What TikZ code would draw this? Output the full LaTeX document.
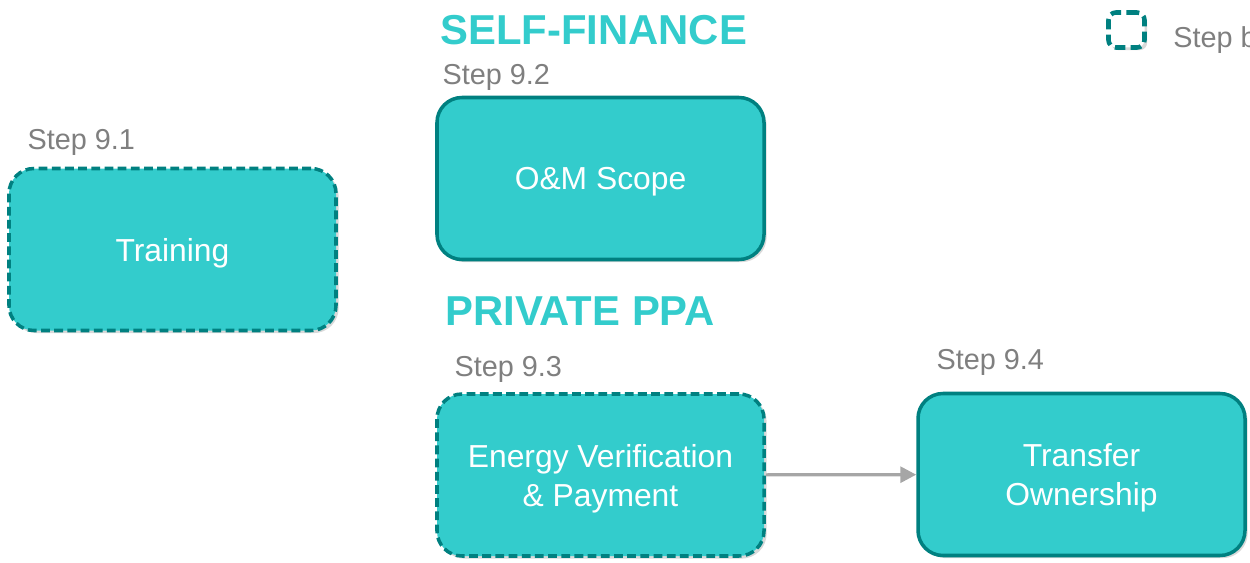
\documentclass[tikz,border=0pt]{standalone}
\usepackage{fontspec}
\setmainfont{Liberation Sans}
\usepackage{tikz}
\usetikzlibrary{shapes,arrows.meta,positioning,shadows}

\definecolor{stepfill}{RGB}{51,204,204}
\definecolor{stepline}{RGB}{0,128,128}
\definecolor{labelgray}{RGB}{127,127,127}
\definecolor{arrowgray}{RGB}{166,166,166}

\begin{document}
\begin{tikzpicture}[
    stepbox/.style={rectangle, rounded corners=0.5cm, minimum width=6.54cm, minimum height=3.24cm, align=center, text depth=0pt, draw=stepline, line width=2pt, fill=stepfill, text=white, font=\fontsize{18.1pt}{22.2pt}\selectfont, drop shadow={shadow xshift=1.5pt, shadow yshift=-1.5pt, opacity=0.3}},
    optional/.style={dash pattern=on 5pt off 2.5pt},
    steplabel/.style={inner sep=0pt, text=labelgray, font=\fontsize{16.4pt}{19pt}\selectfont},
    heading/.style={inner sep=0pt, text=stepfill, font=\bfseries\fontsize{23.8pt}{28pt}\selectfont},
    arrow/.style={line width=1.8pt, draw=arrowgray, -{Triangle[length=9pt,width=9pt]}}
]
\useasboundingbox (0,0) rectangle (25,-11.26);

% Boxes
\node (train) [stepbox, optional] at (3.45,-4.99) {Training};
\node (scope) [stepbox] at (12.01,-3.57) {O\&M Scope};
\node (verify) [stepbox, optional] at (12.01,-9.50) {Energy Verification\\ \& Payment};
\node (transfer) [stepbox] at (21.63,-9.49) {Transfer\\ Ownership};

% Step labels
\node (lbl1) [steplabel, above right=0.22cm and 0.4cm of train.north west] {Step 9.1};
\node (lbl2) [steplabel, above right=0.1cm and 0.14cm of scope.north west] {Step 9.2};
\node (lbl3) [steplabel, above right=0.18cm and 0.38cm of verify.north west] {Step 9.3};
\node (lbl4) [steplabel, above right=0.32cm and 0.4cm of transfer.north west] {Step 9.4};

% Headings
\node (selffin) [heading, anchor=base west] at (8.8,-0.9) {SELF-FINANCE};
\node (ppa) [heading, anchor=base west] at (8.9,-6.5) {PRIVATE PPA};

% Legend
\node (legbox) [rectangle, rounded corners=0.15cm, minimum width=0.72cm, minimum height=0.7cm, draw=stepline, line width=2.6pt, fill=white, dash pattern=on 6pt off 3pt, drop shadow={shadow xshift=1.5pt, shadow yshift=-1.5pt, opacity=0.3}] at (22.53,-0.6) {};
\node (legtext) [steplabel, anchor=west] at (23.46,-0.8) {Step b};

% Arrows
\draw [arrow] (verify) -- (transfer);

\end{tikzpicture}
\end{document}
